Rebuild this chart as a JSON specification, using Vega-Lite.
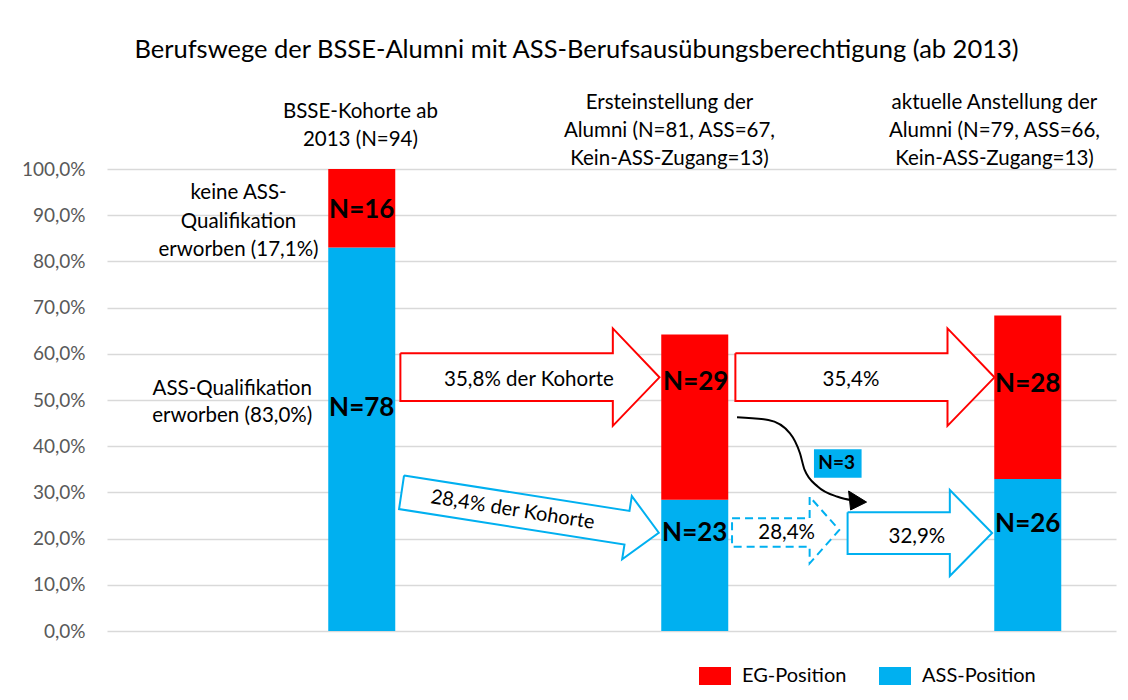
{
  "$schema": "https://vega.github.io/schema/vega-lite/v6.json",
  "width": 1009,
  "height": 462,
  "autosize": {"type": "none"},
  "padding": {"left": 107, "top": 169, "right": 12, "bottom": 69},
  "background": "white",
  "title": {"text": "Berufswege der BSSE-Alumni mit ASS-Berufsausübungsberechtigung (ab 2013)", "fontSize": 25.5, "fontWeight": "normal", "color": "#000000", "anchor": "middle", "frame": "group", "dx": -35, "offset": 29},
  "config": {"font": "Lato", "view": {"stroke": null}},
  "datasets": {
    "bars": [
      {"pos": 1, "typ": "ASS-Position", "share": 0.830},
      {"pos": 1, "typ": "EG-Position", "share": 0.170},
      {"pos": 2, "typ": "ASS-Position", "share": 0.284},
      {"pos": 2, "typ": "EG-Position", "share": 0.358},
      {"pos": 3, "typ": "ASS-Position", "share": 0.329},
      {"pos": 3, "typ": "EG-Position", "share": 0.354}
    ],
    "arrows": [
      {"arrow": "r1", "style": "red", "i": 0, "x": 1.116, "y": 0.601},
      {"arrow": "r1", "style": "red", "i": 1, "x": 1.754, "y": 0.601},
      {"arrow": "r1", "style": "red", "i": 2, "x": 1.754, "y": 0.655},
      {"arrow": "r1", "style": "red", "i": 3, "x": 1.894, "y": 0.549},
      {"arrow": "r1", "style": "red", "i": 4, "x": 1.754, "y": 0.444},
      {"arrow": "r1", "style": "red", "i": 5, "x": 1.754, "y": 0.498},
      {"arrow": "r1", "style": "red", "i": 6, "x": 1.116, "y": 0.498},
      {"arrow": "r1", "style": "red", "i": 7, "x": 1.116, "y": 0.601},
      {"arrow": "r2", "style": "red", "i": 0, "x": 2.122, "y": 0.601},
      {"arrow": "r2", "style": "red", "i": 1, "x": 2.759, "y": 0.601},
      {"arrow": "r2", "style": "red", "i": 2, "x": 2.759, "y": 0.655},
      {"arrow": "r2", "style": "red", "i": 3, "x": 2.900, "y": 0.549},
      {"arrow": "r2", "style": "red", "i": 4, "x": 2.759, "y": 0.444},
      {"arrow": "r2", "style": "red", "i": 5, "x": 2.759, "y": 0.498},
      {"arrow": "r2", "style": "red", "i": 6, "x": 2.122, "y": 0.498},
      {"arrow": "r2", "style": "red", "i": 7, "x": 2.122, "y": 0.601},
      {"arrow": "b1", "style": "blue", "i": 0, "x": 1.127, "y": 0.3366},
      {"arrow": "b1", "style": "blue", "i": 1, "x": 1.804, "y": 0.260},
      {"arrow": "b1", "style": "blue", "i": 2, "x": 1.811, "y": 0.292},
      {"arrow": "b1", "style": "blue", "i": 3, "x": 1.892, "y": 0.2128},
      {"arrow": "b1", "style": "blue", "i": 4, "x": 1.782, "y": 0.1552},
      {"arrow": "b1", "style": "blue", "i": 5, "x": 1.789, "y": 0.1872},
      {"arrow": "b1", "style": "blue", "i": 6, "x": 1.112, "y": 0.2639},
      {"arrow": "b1", "style": "blue", "i": 7, "x": 1.127, "y": 0.3366},
      {"arrow": "b2", "style": "dashed", "i": 0, "x": 2.112, "y": 0.2439},
      {"arrow": "b2", "style": "dashed", "i": 1, "x": 2.345, "y": 0.2439},
      {"arrow": "b2", "style": "dashed", "i": 2, "x": 2.345, "y": 0.2907},
      {"arrow": "b2", "style": "dashed", "i": 3, "x": 2.434, "y": 0.2186},
      {"arrow": "b2", "style": "dashed", "i": 4, "x": 2.345, "y": 0.1465},
      {"arrow": "b2", "style": "dashed", "i": 5, "x": 2.345, "y": 0.1825},
      {"arrow": "b2", "style": "dashed", "i": 6, "x": 2.112, "y": 0.1825},
      {"arrow": "b2", "style": "dashed", "i": 7, "x": 2.112, "y": 0.2439},
      {"arrow": "b3", "style": "blue", "i": 0, "x": 2.459, "y": 0.2569},
      {"arrow": "b3", "style": "blue", "i": 1, "x": 2.766, "y": 0.2569},
      {"arrow": "b3", "style": "blue", "i": 2, "x": 2.766, "y": 0.3052},
      {"arrow": "b3", "style": "blue", "i": 3, "x": 2.893, "y": 0.212},
      {"arrow": "b3", "style": "blue", "i": 4, "x": 2.766, "y": 0.119},
      {"arrow": "b3", "style": "blue", "i": 5, "x": 2.766, "y": 0.1667},
      {"arrow": "b3", "style": "blue", "i": 6, "x": 2.459, "y": 0.1667},
      {"arrow": "b3", "style": "blue", "i": 7, "x": 2.459, "y": 0.2569}
    ],
    "curve": [
      {"i": 0, "x": 2.127, "y": 0.4626},
      {"i": 1, "x": 2.221, "y": 0.4567},
      {"i": 2, "x": 2.286, "y": 0.4279},
      {"i": 3, "x": 2.316, "y": 0.3846},
      {"i": 4, "x": 2.330, "y": 0.3485},
      {"i": 5, "x": 2.370, "y": 0.3123},
      {"i": 6, "x": 2.429, "y": 0.2907},
      {"i": 7, "x": 2.477, "y": 0.2825}
    ],
    "head": [
      {"i": 0, "x": 2.462, "y": 0.303},
      {"i": 1, "x": 2.516, "y": 0.279},
      {"i": 2, "x": 2.468, "y": 0.262},
      {"i": 3, "x": 2.462, "y": 0.303}
    ],
    "box": [
      {"x": 2.358, "x2": 2.501, "y": 0.3933, "y2": 0.3318}
    ],
    "texts": [
      {"kind": "plain", "t": "BSSE-Kohorte ab", "x": 0.996, "y": 1.1234},
      {"kind": "plain", "t": "2013 (N=94)", "x": 0.996, "y": 1.0628},
      {"kind": "plain", "t": "Ersteinstellung der", "x": 1.924, "y": 1.1429},
      {"kind": "plain", "t": "Alumni (N=81, ASS=67,", "x": 1.924, "y": 1.0823},
      {"kind": "plain", "t": "Kein-ASS-Zugang=13)", "x": 1.924, "y": 1.0216},
      {"kind": "plain", "t": "aktuelle Anstellung der", "x": 2.9, "y": 1.1429},
      {"kind": "plain", "t": "Alumni  (N=79, ASS=66,", "x": 2.9, "y": 1.0823},
      {"kind": "plain", "t": "Kein-ASS-Zugang=13)", "x": 2.9, "y": 1.0216},
      {"kind": "plain", "t": "keine ASS-", "x": 0.63, "y": 0.947},
      {"kind": "plain", "t": "Qualifikation", "x": 0.63, "y": 0.886},
      {"kind": "plain", "t": "erworben (17,1%)", "x": 0.63, "y": 0.8247},
      {"kind": "plain", "t": "ASS-Qualifikation", "x": 0.611, "y": 0.523},
      {"kind": "plain", "t": "erworben (83,0%)", "x": 0.611, "y": 0.465},
      {"kind": "plain", "t": "35,8% der Kohorte", "x": 1.502, "y": 0.5433},
      {"kind": "plain", "t": "35,4%", "x": 2.469, "y": 0.5433},
      {"kind": "plain", "t": "28,4%", "x": 2.276, "y": 0.2115},
      {"kind": "plain", "t": "32,9%", "x": 2.667, "y": 0.2041},
      {"kind": "rot", "t": "28,4% der Kohorte", "x": 1.453, "y": 0.2619},
      {"kind": "nbig", "t": "N=16", "x": 1.0, "y": 0.911},
      {"kind": "nbig", "t": "N=78", "x": 1.0, "y": 0.482},
      {"kind": "nbig", "t": "N=29", "x": 2.003, "y": 0.5396},
      {"kind": "nbig", "t": "N=23", "x": 2.0, "y": 0.2128},
      {"kind": "nbig", "t": "N=28", "x": 3.0, "y": 0.534},
      {"kind": "nbig", "t": "N=26", "x": 3.0, "y": 0.2316},
      {"kind": "nsmall", "t": "N=3", "x": 2.426, "y": 0.363}
    ]
  },
  "layer": [
    {
      "data": {"name": "bars"},
      "mark": {"type": "bar", "size": 67},
      "encoding": {
        "x": {"field": "pos", "type": "quantitative", "scale": {"domain": [0.25, 3.25]}, "axis": null},
        "y": {"field": "share", "type": "quantitative", "stack": "zero", "scale": {"domain": [0, 1]}, "title": null,
          "axis": {"values": [0, 0.1, 0.2, 0.3, 0.4, 0.5, 0.6, 0.7, 0.8, 0.9, 1], "labelExpr": "replace(format(datum.value, '.1%'), '.', ',')", "labelFontSize": 19, "labelColor": "#595959", "labelPadding": 22, "ticks": false, "domain": false, "grid": true, "gridColor": "#D9D9D9", "gridWidth": 1.3, "title": null}},
        "color": {"field": "typ", "type": "nominal", "scale": {"domain": ["EG-Position", "ASS-Position"], "range": ["#FF0000", "#00B0F0"]},
          "legend": {"orient": "none", "legendX": 592, "legendY": 491, "direction": "horizontal", "title": null, "symbolType": "M-1,-0.5625L1,-0.5625L1,0.5625L-1,0.5625Z", "symbolSize": 1024, "symbolStrokeWidth": 0, "symbolOpacity": 1, "labelFontSize": 20, "labelColor": "#000000", "labelOffset": 11, "columnPadding": 32, "padding": 0}},
        "order": {"field": "typ", "sort": "ascending"}
      }
    },
    {
      "data": {"name": "arrows"},
      "transform": [{"filter": "datum.style === 'red'"}],
      "mark": {"type": "line", "stroke": "#FF0000", "fill": "white", "strokeWidth": 2, "strokeJoin": "miter"},
      "encoding": {
        "x": {"field": "x", "type": "quantitative", "scale": {"domain": [0.25, 3.25]}, "axis": null},
        "y": {"field": "y", "type": "quantitative", "scale": {"domain": [0, 1]}, "title": null},
        "detail": {"field": "arrow"},
        "order": {"field": "i", "type": "quantitative"}
      }
    },
    {
      "data": {"name": "arrows"},
      "transform": [{"filter": "datum.style === 'blue'"}],
      "mark": {"type": "line", "stroke": "#00B0F0", "fill": "white", "strokeWidth": 2, "strokeJoin": "miter"},
      "encoding": {
        "x": {"field": "x", "type": "quantitative", "scale": {"domain": [0.25, 3.25]}, "axis": null},
        "y": {"field": "y", "type": "quantitative", "scale": {"domain": [0, 1]}, "title": null},
        "detail": {"field": "arrow"},
        "order": {"field": "i", "type": "quantitative"}
      }
    },
    {
      "data": {"name": "arrows"},
      "transform": [{"filter": "datum.style === 'dashed'"}],
      "mark": {"type": "line", "stroke": "#00B0F0", "fill": "white", "strokeWidth": 2, "strokeDash": [8, 5], "strokeJoin": "miter"},
      "encoding": {
        "x": {"field": "x", "type": "quantitative", "scale": {"domain": [0.25, 3.25]}, "axis": null},
        "y": {"field": "y", "type": "quantitative", "scale": {"domain": [0, 1]}, "title": null},
        "detail": {"field": "arrow"},
        "order": {"field": "i", "type": "quantitative"}
      }
    },
    {
      "data": {"name": "curve"},
      "mark": {"type": "line", "stroke": "#000000", "strokeWidth": 2, "interpolate": "monotone"},
      "encoding": {
        "x": {"field": "x", "type": "quantitative", "scale": {"domain": [0.25, 3.25]}, "axis": null},
        "y": {"field": "y", "type": "quantitative", "scale": {"domain": [0, 1]}, "title": null},
        "order": {"field": "i", "type": "quantitative"}
      }
    },
    {
      "data": {"name": "head"},
      "mark": {"type": "line", "stroke": "#000000", "fill": "#000000", "strokeWidth": 1},
      "encoding": {
        "x": {"field": "x", "type": "quantitative", "scale": {"domain": [0.25, 3.25]}, "axis": null},
        "y": {"field": "y", "type": "quantitative", "scale": {"domain": [0, 1]}, "title": null},
        "order": {"field": "i", "type": "quantitative"}
      }
    },
    {
      "data": {"name": "box"},
      "mark": {"type": "rect", "fill": "#00B0F0"},
      "encoding": {
        "x": {"field": "x", "type": "quantitative", "scale": {"domain": [0.25, 3.25]}, "axis": null},
        "x2": {"field": "x2"},
        "y": {"field": "y", "type": "quantitative", "scale": {"domain": [0, 1]}, "title": null},
        "y2": {"field": "y2"}
      }
    },
    {
      "data": {"name": "texts"},
      "transform": [{"filter": "datum.kind === 'plain'"}],
      "mark": {"type": "text", "fontSize": 20.5, "color": "#000000", "align": "center", "baseline": "middle"},
      "encoding": {
        "x": {"field": "x", "type": "quantitative", "scale": {"domain": [0.25, 3.25]}, "axis": null},
        "y": {"field": "y", "type": "quantitative", "scale": {"domain": [0, 1]}, "title": null},
        "text": {"field": "t"}
      }
    },
    {
      "data": {"name": "texts"},
      "transform": [{"filter": "datum.kind === 'rot'"}],
      "mark": {"type": "text", "fontSize": 20, "color": "#000000", "align": "center", "baseline": "middle", "angle": 9},
      "encoding": {
        "x": {"field": "x", "type": "quantitative", "scale": {"domain": [0.25, 3.25]}, "axis": null},
        "y": {"field": "y", "type": "quantitative", "scale": {"domain": [0, 1]}, "title": null},
        "text": {"field": "t"}
      }
    },
    {
      "data": {"name": "texts"},
      "transform": [{"filter": "datum.kind === 'nbig'"}],
      "mark": {"type": "text", "fontSize": 26, "fontWeight": "bold", "color": "#000000", "align": "center", "baseline": "middle"},
      "encoding": {
        "x": {"field": "x", "type": "quantitative", "scale": {"domain": [0.25, 3.25]}, "axis": null},
        "y": {"field": "y", "type": "quantitative", "scale": {"domain": [0, 1]}, "title": null},
        "text": {"field": "t"}
      }
    },
    {
      "data": {"name": "texts"},
      "transform": [{"filter": "datum.kind === 'nsmall'"}],
      "mark": {"type": "text", "fontSize": 19, "fontWeight": "bold", "color": "#000000", "align": "center", "baseline": "middle"},
      "encoding": {
        "x": {"field": "x", "type": "quantitative", "scale": {"domain": [0.25, 3.25]}, "axis": null},
        "y": {"field": "y", "type": "quantitative", "scale": {"domain": [0, 1]}, "title": null},
        "text": {"field": "t"}
      }
    }
  ]
}
